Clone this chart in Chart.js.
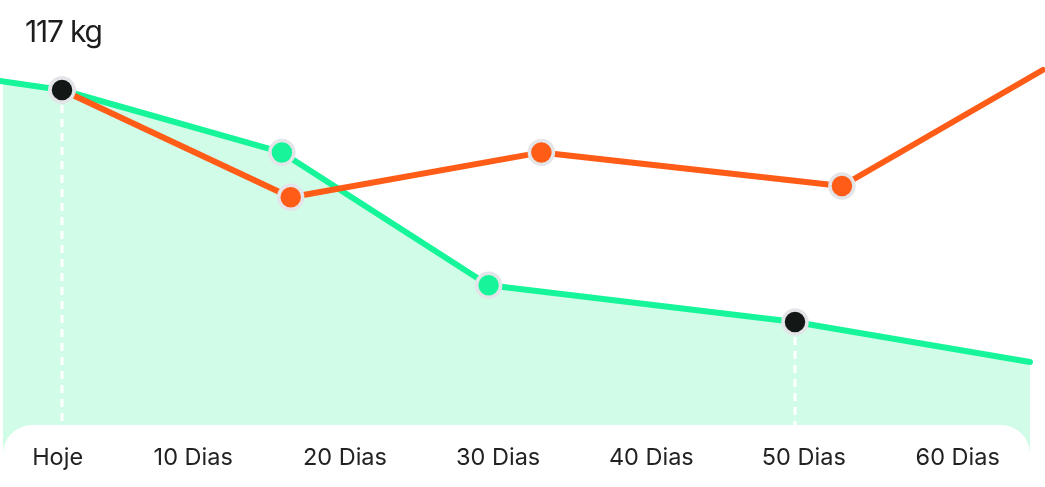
<!DOCTYPE html>
<html><head><meta charset="utf-8">
<script src="https://cdn.jsdelivr.net/npm/chart.js@4.4.1/dist/chart.umd.min.js"></script>
<style>
html,body{margin:0;padding:0;background:#fff;}
#wrap{position:relative;width:1045px;height:487px;overflow:hidden;}
#title{position:absolute;left:25px;top:16px;font-family:Inter,sans-serif;font-size:30px;line-height:30px;letter-spacing:-1.2px;color:#1c1c1c;}
canvas{position:absolute;left:0;top:0;}
</style></head>
<body>
<div id="wrap"><canvas id="c" width="1045" height="487"></canvas><div id="title">117 kg</div></div>
<script>
// data
const tickDays = [-0.3, 8.95, 19.3, 29.75, 40.2, 50.6, 61.1];
const tickLabels = ['Hoje', '10 Dias', '20 Dias', '30 Dias', '40 Dias', '50 Dias', '60 Dias'];
const greenDays = [-4.23, 0, 15.0, 29.1, 50, 66.03];
const greenKg = [117.56, 117, 113.1, 104.8, 102.5, 100];
const orangeDays = [0, 15.6, 32.7, 53.2, 66.9];
const orangeKg = [117, 110.3, 113.1, 111, 118.25];
const guideIdx = [1, 4];

const GREEN = '#17F59A', FILL = '#D1FCE8', ORANGE = '#FF5C17', DARK = '#131816', RING = '#E3E5E8';

const greenPts = greenDays.map((d, i) => ({x: d, y: greenKg[i]}));
const orangePts = orangeDays.map((d, i) => ({x: d, y: orangeKg[i]}));

const overlay = {
  id: 'overlay',
  afterDatasetsDraw(chart) {
    const ctx = chart.ctx;
    const meta = chart.getDatasetMeta(1);
    const cardTop = 425;
    ctx.save();
    ctx.strokeStyle = '#ffffff';
    ctx.lineWidth = 3;
    ctx.setLineDash([8, 6]);
    guideIdx.forEach(i => {
      const p = meta.data[i];
      ctx.beginPath();
      ctx.moveTo(p.x, p.y + 15);
      ctx.lineTo(p.x, cardTop);
      ctx.stroke();
    });
    ctx.setLineDash([]);
    const l = chart.chartArea.left, r = chart.chartArea.right, rad = 29;
    ctx.fillStyle = '#ffffff';
    ctx.beginPath();
    ctx.moveTo(l, 490);
    ctx.lineTo(l, cardTop + rad);
    ctx.arcTo(l, cardTop, l + rad, cardTop, rad);
    ctx.lineTo(r - rad, cardTop);
    ctx.arcTo(r, cardTop, r, cardTop + rad, rad);
    ctx.lineTo(r, 490);
    ctx.closePath();
    ctx.fill();
    ctx.restore();
  }
};

function zeroPad(scale) {
  scale.paddingLeft = 0; scale.paddingRight = 0; scale.paddingTop = 0; scale.paddingBottom = 0;
}

new Chart(document.getElementById('c'), {
  type: 'line',
  data: {
    datasets: [
      {
        label: 'orange',
        data: orangePts,
        borderColor: ORANGE,
        borderWidth: 6,
        borderCapStyle: 'round',
        borderJoinStyle: 'round',
        fill: false,
        tension: 0,
        clip: false,
        pointRadius: [12, 12, 12, 12, 0],
        pointBorderWidth: 3.5,
        pointBorderColor: RING,
        pointBackgroundColor: [DARK, ORANGE, ORANGE, ORANGE, ORANGE]
      },
      {
        label: 'green',
        data: greenPts,
        borderColor: GREEN,
        backgroundColor: FILL,
        borderWidth: 6,
        borderCapStyle: 'round',
        borderJoinStyle: 'round',
        fill: 'start',
        tension: 0,
        clip: false,
        pointRadius: [0, 12, 12, 12, 12, 0],
        pointBorderWidth: 3.5,
        pointBorderColor: RING,
        pointBackgroundColor: [GREEN, DARK, GREEN, GREEN, DARK, GREEN]
      }
    ]
  },
  options: {
    responsive: false,
    animation: false,
    devicePixelRatio: 1,
    layout: {autoPadding: false, padding: {left: 3, right: 15, top: 0, bottom: 0}},
    plugins: {legend: {display: false}, tooltip: {enabled: false}, title: {display: false}},
    events: [],
    scales: {
      x: {
        type: 'linear',
        position: 'bottom',
        min: -4.0246,
        max: 66.03,
        z: 1,
        grid: {display: false, drawTicks: false},
        border: {display: false},
        afterBuildTicks(scale) { scale.ticks = tickDays.map(v => ({value: v})); },
        afterFit(scale) { scale.height = 0; zeroPad(scale); },
        ticks: {
          z: 1,
          mirror: true,
          autoSkip: false,
          maxRotation: 0,
          padding: 15,
          color: '#222222',
          font: {family: 'Inter', size: 23.5},
          callback: (v, i) => tickLabels[i]
        }
      },
      y: {
        display: false,
        min: 92.1875,
        max: 122.625,
        afterFit(scale) { scale.width = 0; zeroPad(scale); }
      }
    }
  },
  plugins: [overlay]
});
</script>
</body></html>
